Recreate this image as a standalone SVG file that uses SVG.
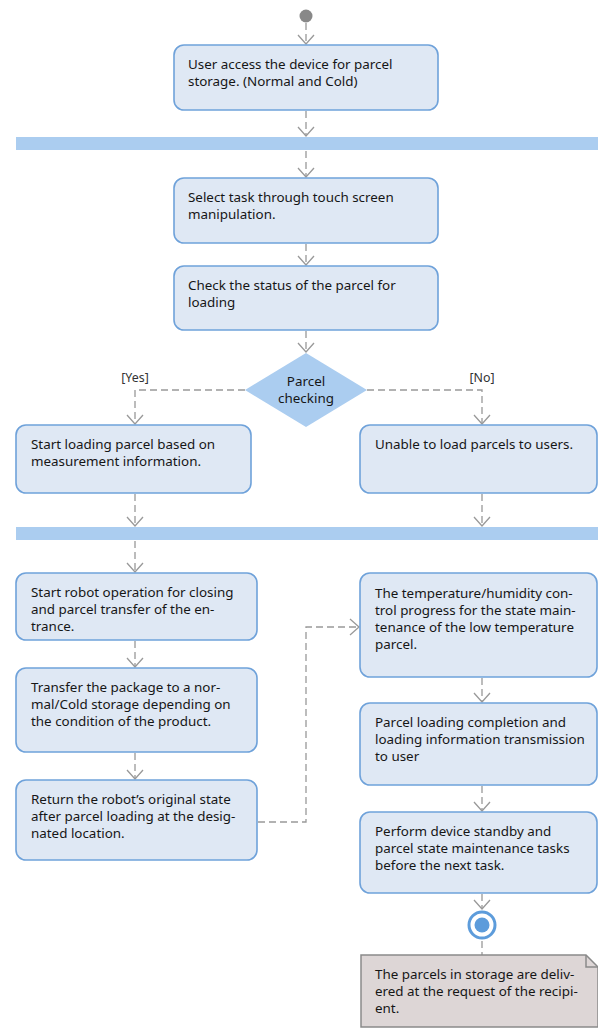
<svg xmlns="http://www.w3.org/2000/svg" width="598" height="1035" viewBox="0 0 598 1035">
<defs>
<marker id="arr" markerWidth="20" markerHeight="20" refX="10" refY="10" orient="auto" markerUnits="userSpaceOnUse">
<path d="M1,2 L10,10 L1,18" fill="none" stroke="#999" stroke-width="1.3"/>
</marker>
<style>
.box{fill:#dfe8f4;stroke:#6fa2da;stroke-width:1.6}
.bar{fill:#abcdf0}
.t{font-family:"Noto Sans","Open Sans",sans-serif;font-size:13.4px;fill:#161616}
.lbl{font-family:"Noto Sans","Open Sans",sans-serif;font-size:12.4px;fill:#333;text-anchor:middle}
.c{fill:none;stroke:#999;stroke-width:1.3;stroke-dasharray:7 4}
</style>
</defs>
<rect width="598" height="1035" fill="#fff"/>
<g id="connectors">
<path class="c" d="M306,23 V44" marker-end="url(#arr)"/>
<path class="c" d="M306,111 V136" marker-end="url(#arr)"/>
<path class="c" d="M306,151 V177" marker-end="url(#arr)"/>
<path class="c" d="M306,244 V265" marker-end="url(#arr)"/>
<path class="c" d="M306,331 V352" marker-end="url(#arr)"/>
<path class="c" d="M245,390 H135 V424" marker-end="url(#arr)"/>
<path class="c" d="M367,390 H482 V424" marker-end="url(#arr)"/>
<path class="c" d="M135,494 V526" marker-end="url(#arr)"/>
<path class="c" d="M482,494 V526" marker-end="url(#arr)"/>
<path class="c" d="M135,541 V572" marker-end="url(#arr)"/>
<path class="c" d="M135,641 V667" marker-end="url(#arr)"/>
<path class="c" d="M135,753 V779" marker-end="url(#arr)"/>
<path class="c" d="M258,822 H306 V627 H359" marker-end="url(#arr)"/>
<path class="c" d="M482,678 V702" marker-end="url(#arr)"/>
<path class="c" d="M482,786 V811" marker-end="url(#arr)"/>
<path class="c" d="M482,894 V909" marker-end="url(#arr)"/>
<path class="c" d="M482,941 V955"/>
<text class="lbl" x="135" y="382">[Yes]</text>
<text class="lbl" x="482" y="382">[No]</text>
</g>
<g id="start"><circle cx="306" cy="16" r="6.5" fill="#888"/></g>
<g id="n1">
<rect class="box" x="174" y="45" width="264" height="65" rx="10"/>
<text class="t" x="188" y="69">User access the device for parcel</text>
<text class="t" x="188" y="86">storage. (Normal and Cold)</text>
</g>
<g id="fork1"><rect class="bar" x="16" y="137" width="582" height="13"/></g>
<g id="n2">
<rect class="box" x="174" y="178" width="264" height="65" rx="10"/>
<text class="t" x="188" y="202">Select task through touch screen</text>
<text class="t" x="188" y="219">manipulation.</text>
</g>
<g id="n3">
<rect class="box" x="174" y="266" width="264" height="64" rx="10"/>
<text class="t" x="188" y="290">Check the status of the parcel for</text>
<text class="t" x="188" y="307">loading</text>
</g>
<g id="decision">
<path d="M306,353 L367,390 L306,427 L245,390 Z" fill="#abcdf0"/>
<text class="t" x="306" y="386" text-anchor="middle">Parcel</text>
<text class="t" x="306" y="403" text-anchor="middle">checking</text>
</g>
<g id="nA">
<rect class="box" x="16" y="425" width="235" height="68" rx="10"/>
<text class="t" x="31" y="449">Start loading parcel based on</text>
<text class="t" x="31" y="466">measurement information.</text>
</g>
<g id="nB">
<rect class="box" x="360" y="425" width="237" height="68" rx="10"/>
<text class="t" x="375" y="449">Unable to load parcels to users.</text>
</g>
<g id="fork2"><rect class="bar" x="16" y="527" width="582" height="13"/></g>
<g id="nC">
<rect class="box" x="16" y="573" width="241" height="67" rx="10"/>
<text class="t" x="31" y="597">Start robot operation for closing</text>
<text class="t" x="31" y="614">and parcel transfer of the en-</text>
<text class="t" x="31" y="631">trance.</text>
</g>
<g id="nD">
<rect class="box" x="16" y="668" width="241" height="84" rx="10"/>
<text class="t" x="31" y="692">Transfer the package to a nor-</text>
<text class="t" x="31" y="709">mal/Cold storage depending on</text>
<text class="t" x="31" y="726">the condition of the product.</text>
</g>
<g id="nE">
<rect class="box" x="16" y="780" width="241" height="80" rx="10"/>
<text class="t" x="31" y="804">Return the robot’s original state</text>
<text class="t" x="31" y="821">after parcel loading at the desig-</text>
<text class="t" x="31" y="838">nated location.</text>
</g>
<g id="nF">
<rect class="box" x="360" y="573" width="237" height="104" rx="10"/>
<text class="t" x="375" y="598">The temperature/humidity con-</text>
<text class="t" x="375" y="615">trol progress for the state main-</text>
<text class="t" x="375" y="632">tenance of the low temperature</text>
<text class="t" x="375" y="649">parcel.</text>
</g>
<g id="nG">
<rect class="box" x="360" y="703" width="237" height="82" rx="10"/>
<text class="t" x="375" y="727">Parcel loading completion and</text>
<text class="t" x="375" y="744">loading information transmission</text>
<text class="t" x="375" y="761">to user</text>
</g>
<g id="nH">
<rect class="box" x="360" y="812" width="237" height="81" rx="10"/>
<text class="t" x="375" y="836">Perform device standby and</text>
<text class="t" x="375" y="853">parcel state maintenance tasks</text>
<text class="t" x="375" y="870">before the next task.</text>
</g>
<g id="end">
<circle cx="482" cy="925" r="13" fill="#fff" stroke="#5d9cdb" stroke-width="3"/>
<circle cx="482" cy="925" r="7.5" fill="#5d9cdb"/>
</g>
<g id="note">
<path d="M361,955 H586 L598,967 V1027 H361 Z" fill="#ddd6d6" stroke="#8a8a8a" stroke-width="1.5"/>
<path d="M586,955 V967 H598" fill="none" stroke="#8a8a8a" stroke-width="1.5"/>
<text class="t" x="375" y="979">The parcels in storage are deliv-</text>
<text class="t" x="375" y="996">ered at the request of the recipi-</text>
<text class="t" x="375" y="1013">ent.</text>
</g>
</svg>
